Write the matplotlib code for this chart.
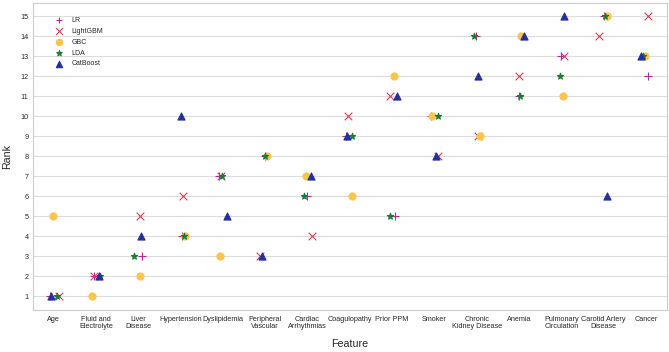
import numpy as np
import matplotlib.pyplot as plt
import seaborn as sns

features = ["Age", "Fluid and\nElectrolyte", "Liver\nDisease", "Hypertension", "Dyslipidemia",
            "Peripheral\nVascular", "Cardiac\nArrhythmias", "Coagulopathy", "Prior PPM", "Smoker",
            "Chronic\nKidney Disease", "Anemia", "Pulmonary\nCirculation", "Carotid Artery\nDisease",
            "Cancer"]

# ranks per model, in feature order
lr_rank = [1, 2, 3, 4, 7, 8, 6, 9, 5, 10, 14, 11, 13, 15, 12]
lgbm_rank = [1, 2, 5, 6, 7, 3, 4, 10, 11, 8, 9, 12, 13, 14, 15]
gbc_rank = [5, 1, 2, 4, 3, 8, 7, 6, 12, 10, 9, 14, 11, 15, 13]
lda_rank = [1, 2, 3, 4, 7, 8, 6, 9, 5, 10, 14, 11, 12, 15, 13]
cat_rank = [1, 2, 4, 10, 5, 3, 7, 9, 11, 8, 12, 14, 15, 6, 13]

sns.set_style("whitegrid")
plt.rcParams['font.family'] = ['Liberation Sans', 'DejaVu Sans']

fig = plt.figure(figsize=(6.69, 3.52), dpi=100)
ax = fig.add_axes([0.049, 0.119, 0.948, 0.872])

models = [
    ("LR", lr_rank, "+", "#b8259f", 30),
    ("LightGBM", lgbm_rank, "x", "#d93a5c", 30),
    ("GBC", gbc_rank, "o", "#fcc44e", 26),
    ("LDA", lda_rank, "*", "#1c7a36", 22),
    ("CatBoost", cat_rank, "^", "#25319b", 26),
]

rng = np.random.default_rng(3)
x = np.arange(len(features))
for name, ranks, marker, color, size in models:
    jitter = rng.uniform(-0.12, 0.12, len(features))
    ax.scatter(x + jitter, ranks, marker=marker, color=color, s=size,
               linewidths=0.8, label=name, zorder=3)

ax.set_xlim(-0.5, 14.5)
ax.set_ylim(0.3, 15.65)
ax.set_xticks(x)
ax.set_xticklabels(features, fontsize=5.2, linespacing=1.1)
ax.set_yticks(range(1, 16))
ax.tick_params(axis='y', labelsize=5.2, pad=3, length=0)
ax.tick_params(axis='x', pad=4, length=0)
ax.grid(axis='x', visible=False)
ax.grid(axis='y', color='#dddddd', linewidth=0.8)
for s in ax.spines.values():
    s.set_color('#cccccc')

ax.set_xlabel("Feature", fontsize=7.7, labelpad=6)
ax.set_ylabel("Rank", fontsize=7.7, labelpad=6)
ax.legend(loc='upper left', bbox_to_anchor=(0.02, 0.975), frameon=False, fontsize=5,
          handletextpad=0.8, labelspacing=0.55, markerscale=0.9)

fig.savefig("out.png", dpi=100)
